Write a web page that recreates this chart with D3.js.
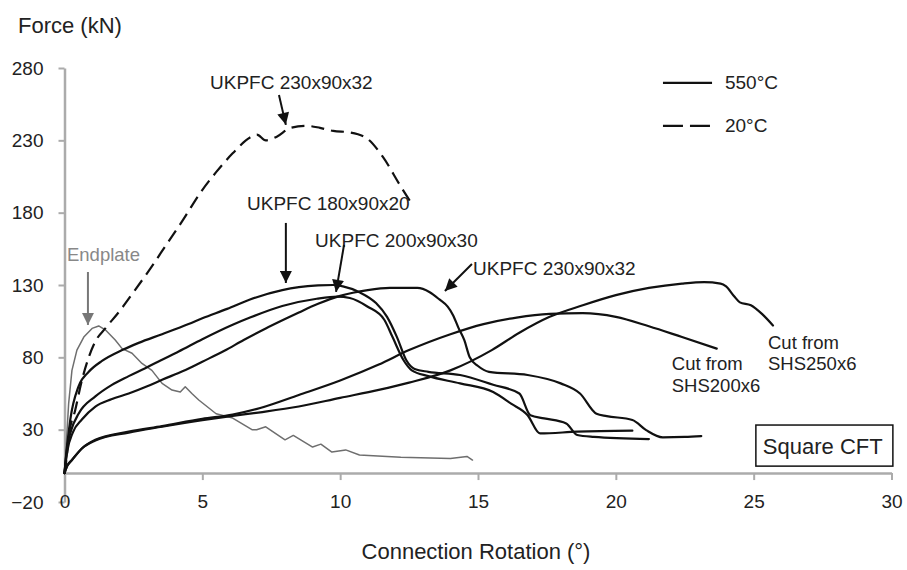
<!DOCTYPE html>
<html>
<head>
<meta charset="utf-8">
<script src="https://cdn.jsdelivr.net/npm/d3@7"></script>
<style>
  html, body { margin: 0; padding: 0; background: #fff; }
  svg { display: block; }
  text { font-family: "Liberation Sans", Arial, sans-serif; fill: #222; }
</style>
</head>
<body>
<svg id="chart" width="907" height="570"></svg>
<script>
// ---- Data (rotation in degrees, force in kN) ----
const xTicks = [0, 5, 10, 15, 20, 25, 30];
const yTicks = [-20, 30, 80, 130, 180, 230, 280];

// 550°C, UKPFC 180x90x20
const ukpfc180Rot   = [0, 0.1, 0.21, 0.51, 0.88, 1.36, 2.09, 2.69, 3.54, 4.5, 5.0, 5.9, 6.73, 7.9, 8.5, 9.2, 9.75, 10.1, 10.7, 11.3, 11.7, 12.06, 12.4, 12.7, 13.2, 14.35, 15.55, 16.5, 16.9, 17.4, 18.2, 18.6, 19.2, 21.2];
const ukpfc180Force = [0, 20, 37, 60, 70, 77.5, 85, 90, 96, 103, 107, 113.5, 120, 126.5, 128.5, 129.7, 130, 129, 125, 117.5, 108, 94, 78, 72, 70, 67.8, 61, 55, 40, 37.8, 34.3, 26.3, 25, 23.5];

// 550°C, UKPFC 200x90x30
const ukpfc200Rot   = [0, 0.1, 0.25, 0.51, 1.12, 1.72, 2.33, 2.93, 3.5, 4.14, 5.0, 6.1, 6.73, 7.9, 9.15, 9.9, 10.35, 11.0, 11.6, 11.9, 12.3, 12.6, 13.2, 14.35, 15.55, 16.2, 16.8, 17.25, 18.6, 20.6];
const ukpfc200Force = [0, 18, 30, 41, 53, 61, 67, 72.5, 78, 84, 92.5, 102.5, 107.5, 115.5, 120.5, 122, 121, 115, 106, 94, 78, 71, 67, 62, 56, 48, 40, 27.4, 28.6, 29.3];

// 550°C, UKPFC 230x90x32
const ukpfc230Rot   = [0, 0.1, 0.3, 0.63, 1.12, 1.7, 2.33, 3.0, 3.54, 4.3, 5.0, 5.8, 6.5, 7.3, 8.0, 8.5, 9.2, 10.0, 11.0, 11.8, 12.8, 13.25, 13.6, 13.9, 14.1, 14.3, 14.5, 14.7, 15.0, 15.4, 16.8, 18.0, 18.7, 19.3, 19.67, 20.6, 21.1, 21.7, 22.5, 23.1];
const ukpfc230Force = [0, 15, 28, 37, 46, 51, 55, 60, 64.5, 70.5, 77, 84.5, 92, 100, 106.5, 111, 117, 122.5, 126.5, 128, 128, 125, 120, 115, 109, 100, 92, 80, 74, 70, 67.8, 62, 55, 41, 39.4, 36.7, 29.7, 24.7, 25, 25.6];

// 550°C, cut from SHS200x6
const shs200Rot   = [0, 0.1, 0.27, 0.63, 1.12, 2.33, 3.54, 5.0, 6.1, 7.1, 8.5, 10.0, 11.4, 12.5, 14.0, 15.2, 16.4, 17.6, 18.8, 20.0, 21.2, 22.4, 23.66];
const shs200Force = [0, 5, 9, 17, 23, 28.6, 32.5, 37.5, 40.5, 45, 54, 64, 75, 85, 96, 103, 107.5, 110, 110.5, 108, 101.5, 94, 86];

// 550°C, cut from SHS250x6
const shs250Rot   = [0, 0.1, 0.27, 0.63, 1.12, 2.33, 3.54, 5.0, 6.1, 7.1, 8.5, 10.0, 11.4, 12.5, 14.0, 15.5, 16.5, 17.6, 18.8, 20.0, 21.2, 22.4, 23.2, 23.8, 24.0, 24.3, 24.5, 24.9, 25.3, 25.7];
const shs250Force = [0, 5, 9, 17, 22.5, 28, 32, 36.5, 39.5, 42, 46, 52, 57.5, 62.5, 71, 85, 97, 108, 116, 123, 128, 131, 132, 131, 129, 122, 118, 116, 110, 102];

// 20°C, UKPFC 230x90x32 (dashed)
const ambientRot   = [0, 0.08, 0.15, 0.39, 0.63, 0.88, 1.12, 1.48, 2.0, 2.5, 3.1, 3.7, 4.3, 4.9, 5.5, 6.1, 6.73, 6.98, 7.3, 7.7, 8.2, 8.79, 9.27, 9.75, 10.35, 10.96, 11.55, 12.17, 12.5, 12.6];
const ambientForce = [0, 11, 25, 43.6, 64, 80, 91, 100, 112, 125, 141, 158, 175, 193, 208, 221, 232, 234, 230, 232.5, 238.6, 240, 238.6, 236.5, 235.5, 231.5, 218.5, 199, 189, 186];

// Endplate (grey)
const endplateRot   = [0, 0.08, 0.15, 0.27, 0.45, 0.7, 1.0, 1.24, 1.48, 1.84, 2.09, 2.45, 2.81, 3.17, 3.54, 3.9, 4.2, 4.38, 4.62, 4.87, 5.5, 6.1, 6.8, 6.97, 7.3, 8.0, 8.3, 9.0, 9.3, 9.7, 10.2, 10.7, 12.2, 14.0, 14.6, 14.8];
const endplateForce = [0, 25, 48, 71, 85, 94, 100, 101.7, 99, 92, 86, 82.8, 75.8, 71, 62, 57.4, 56, 59.7, 55, 50.5, 41, 38, 30, 30, 32, 23, 26, 18, 20, 14.5, 16, 12.5, 11, 10, 11.5, 9];

// Annotation labels [text, rotation, force]
const labelTexts = ["UKPFC 230x90x32", "UKPFC 180x90x20", "UKPFC 200x90x30", "UKPFC 230x90x32"];
const labelRot   = [5.28, 6.62, 9.09, 14.82];
const labelForce = [269.7, 186.0, 161.1, 141.1];
// Arrows: from (rot, force) to (rot, force)
const arrowFromRot   = [7.78, 8.03, 10.14, 14.78];
const arrowFromForce = [261.4, 172.9, 157.7, 144.5];
const arrowToRot     = [8.03, 8.03, 9.85, 13.8];
const arrowToForce   = [240.7, 131.4, 125.2, 125.9];

const legendTexts = ["550°C", "20°C"];

// ---- Chart ----
const svg = d3.select("#chart");
const x = d3.scaleLinear().domain([0, 30]).range([64.5, 891.5]);
const y = d3.scaleLinear().domain([-20, 280]).range([502, 68]);

const axisColor = "#ababab";

// Y axis
const yAxis = svg.append("g").attr("transform", `translate(${x(0)},0)`)
  .call(d3.axisLeft(y).tickValues(yTicks).tickSize(6).tickSizeOuter(0).tickPadding(15));
yAxis.select(".domain").attr("stroke", axisColor).attr("stroke-width", 2.5);
yAxis.selectAll(".tick line").attr("stroke", axisColor).attr("stroke-width", 2);
yAxis.selectAll(".tick text").style("font-size", "19px").attr("fill", "#222")
  .style("font-family", '"Liberation Sans", Arial, sans-serif');

// X axis (crossing at force = 0)
const xAxis = svg.append("g").attr("transform", `translate(0,${y(0)})`)
  .call(d3.axisBottom(x).tickValues(xTicks).tickSize(7).tickSizeOuter(0).tickPadding(14));
xAxis.select(".domain").attr("stroke", axisColor).attr("stroke-width", 2.5);
xAxis.selectAll(".tick line").attr("stroke", axisColor).attr("stroke-width", 2);
xAxis.selectAll(".tick text").style("font-size", "19px").attr("fill", "#222")
  .style("font-family", '"Liberation Sans", Arial, sans-serif');

// Axis titles
svg.append("text").attr("x", 18).attr("y", 25).attr("dominant-baseline", "central")
  .style("font-size", "22px").text("Force (kN)");
svg.append("text").attr("x", (x(0) + x(30)) / 2 - 2).attr("y", 551)
  .attr("text-anchor", "middle").attr("dominant-baseline", "central")
  .style("font-size", "22px").text("Connection Rotation (°)");

// Curves
const line = d3.line().x(d => x(d[0])).y(d => y(d[1])).curve(d3.curveMonotoneX);
const lineLin = d3.line().x(d => x(d[0])).y(d => y(d[1]));
const zip = (a, b) => a.map((v, i) => [v, b[i]]);

const plot = svg.append("g").attr("fill", "none").attr("stroke-linejoin", "round").attr("stroke-linecap", "round");

plot.append("path").attr("d", lineLin(zip(endplateRot, endplateForce)))
  .attr("stroke", "#6e6e6e").attr("stroke-width", 1.5);

[[shs200Rot, shs200Force], [shs250Rot, shs250Force],
 [ukpfc180Rot, ukpfc180Force], [ukpfc200Rot, ukpfc200Force], [ukpfc230Rot, ukpfc230Force]]
  .forEach(([r, f]) => {
    plot.append("path").attr("d", line(zip(r, f)))
      .attr("stroke", "#111").attr("stroke-width", 2.2);
  });

plot.append("path").attr("d", line(zip(ambientRot, ambientForce)))
  .attr("stroke", "#111").attr("stroke-width", 2.2).attr("stroke-dasharray", "13,7")
  .attr("stroke-linecap", "butt");

// Arrow markers
const defs = svg.append("defs");
defs.append("marker").attr("id", "ah").attr("viewBox", "0 0 10 10")
  .attr("refX", 10).attr("refY", 5).attr("markerUnits", "userSpaceOnUse")
  .attr("markerWidth", 13).attr("markerHeight", 12).attr("orient", "auto")
  .append("path").attr("d", "M0,0 L10,5 L0,10 Z").attr("fill", "#111");
defs.append("marker").attr("id", "ahg").attr("viewBox", "0 0 10 10")
  .attr("refX", 10).attr("refY", 5).attr("markerUnits", "userSpaceOnUse")
  .attr("markerWidth", 16).attr("markerHeight", 12).attr("orient", "auto")
  .append("path").attr("d", "M0,0 L10,5 L0,10 Z").attr("fill", "#777");

// Annotations
labelTexts.forEach((t, i) => {
  svg.append("text").attr("x", x(labelRot[i])).attr("y", y(labelForce[i]))
    .attr("dominant-baseline", "central").style("font-size", "19px").text(t);
  svg.append("line")
    .attr("x1", x(arrowFromRot[i])).attr("y1", y(arrowFromForce[i]))
    .attr("x2", x(arrowToRot[i])).attr("y2", y(arrowToForce[i]))
    .attr("stroke", "#111").attr("stroke-width", 2).attr("marker-end", "url(#ah)");
});

// Endplate label + grey arrow
svg.append("text").attr("x", x(0.09)).attr("y", y(150.8)).attr("dominant-baseline", "central")
  .style("font-size", "18.5px").style("fill", "#888").text("Endplate");
svg.append("line").attr("x1", x(0.85)).attr("y1", y(139)).attr("x2", x(0.85)).attr("y2", y(102.4))
  .attr("stroke", "#777").attr("stroke-width", 2).attr("marker-end", "url(#ahg)");

// Cut-from labels
const cut1 = svg.append("text").attr("x", x(22.03)).attr("y", y(76.1)).style("font-size", "18.5px")
  .attr("dominant-baseline", "central");
cut1.append("tspan").attr("x", x(22.03)).text("Cut from");
cut1.append("tspan").attr("x", x(22.03)).attr("dy", 22).text("SHS200x6");
const cut2 = svg.append("text").attr("x", x(25.52)).attr("y", y(90.6)).style("font-size", "18.5px")
  .attr("dominant-baseline", "central");
cut2.append("tspan").attr("x", x(25.52)).text("Cut from");
cut2.append("tspan").attr("x", x(25.52)).attr("dy", 21).text("SHS250x6");

// Square CFT box
svg.append("rect").attr("x", x(25.08)).attr("y", y(33.2))
  .attr("width", x(30.05) - x(25.08)).attr("height", y(4.8) - y(33.2))
  .attr("fill", "#fff").attr("stroke", "#111").attr("stroke-width", 1.5);
svg.append("text").attr("x", x(25.08) + 7).attr("y", (y(33.2) + y(4.8)) / 2 + 1)
  .attr("dominant-baseline", "central").style("font-size", "22px").text("Square CFT");

// Legend
const legY = [y(269.7), y(240.0)];
const legDash = [null, "20,7"];
legendTexts.forEach((t, i) => {
  svg.append("line").attr("x1", x(21.71)).attr("x2", x(23.49)).attr("y1", legY[i]).attr("y2", legY[i])
    .attr("stroke", "#111").attr("stroke-width", 2.2).attr("stroke-dasharray", legDash[i]);
  svg.append("text").attr("x", x(23.96)).attr("y", legY[i]).attr("dominant-baseline", "central")
    .style("font-size", "19px").text(t);
});
</script>
</body>
</html>
